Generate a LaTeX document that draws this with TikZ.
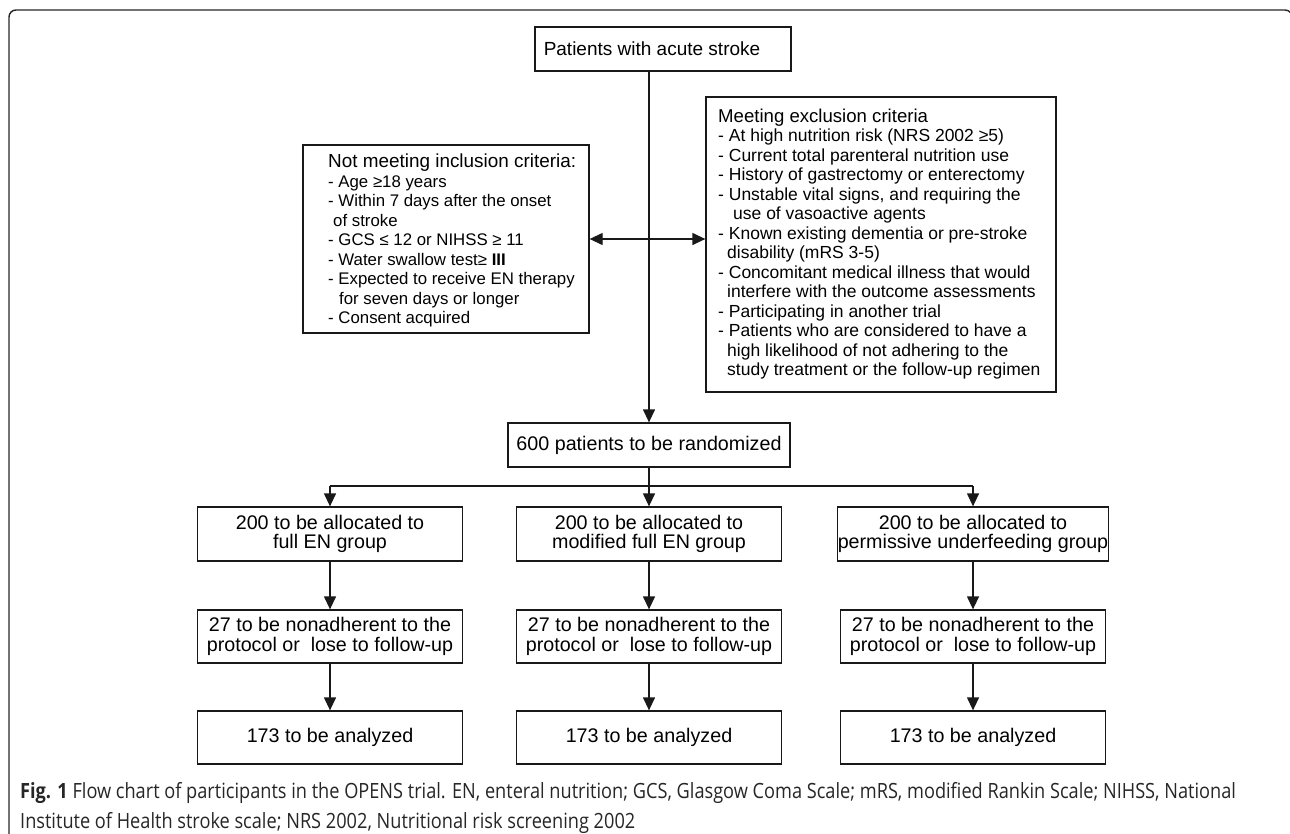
\documentclass[tikz,border=0pt]{standalone}
\usepackage{fontspec}
\setmainfont{Liberation Sans}
\newfontfamily\capfont[FakeStretch=0.865]{Open Sans}
\usetikzlibrary{arrows.meta,calc}
\begin{document}
\begin{tikzpicture}[x=1pt,y=-1pt,
  box/.style={draw=black!90, line width=1.3pt, inner sep=0pt, align=center,
    font=\fontsize{19.7}{19.5}\selectfont},
  lst/.style={inner sep=0pt, align=left, anchor=north west},
  conn/.style={line width=1.3pt, draw=black!90},
  arr/.style={conn, -{Triangle[length=13pt,width=12pt]}},
  darr/.style={conn, {Triangle[length=13pt,width=12pt]}-{Triangle[length=13pt,width=12pt]}},
  frame/.style={draw=black!85, line width=1.4pt, rounded corners=7pt}]
\useasboundingbox (0,0) rectangle (1290,833);
% outer frame
\draw[frame] (9,845) -- (9,10) -- (1292,10) -- (1292,845);
% top
\node[box, font=\fontsize{19}{19.5}\selectfont, minimum width=256pt, minimum height=44pt] (top) at (663,49) {Patients with acute stroke\hspace*{22pt}};
% inclusion
\node[box, minimum width=286pt, minimum height=188pt] (incl) at (446,239) {};
\node[lst, font=\fontsize{16.8}{19.5}\selectfont] (incltxt) at (328,153.8)
 {{\fontsize{18.9}{19.5}\selectfont Not meeting inclusion criteria:}\\
  - Age ≥18 years\\
  - Within 7 days after the onset\\
  \hspace*{5pt}of stroke\\
  - GCS ≤ 12 or NIHSS ≥ 11\\
  - Water swallow test≥ {\bfseries III}\\
  - Expected to receive EN therapy\\
  \hspace*{11pt}for seven days or longer\\
  - Consent acquired};
% exclusion
\node[box, minimum width=350pt, minimum height=295pt] (excl) at (881,244.5) {};
\node[lst, font=\fontsize{17.5}{19.5}\selectfont] (excltxt) at (718,108.4)
 {{\fontsize{18.6}{19.5}\selectfont Meeting exclusion criteria}\\
  - At high nutrition risk (NRS 2002 ≥5)\\
  - Current total parenteral nutrition use\\
  - History of gastrectomy or enterectomy\\
  - Unstable vital signs, and requiring the\\
  \hspace*{15pt}use of vasoactive agents\\
  - Known existing dementia or pre-stroke\\
  \hspace*{9pt}disability (mRS 3-5)\\
  - Concomitant medical illness that would\\
  \hspace*{9pt}interfere with the outcome assessments\\
  - Participating in another trial\\
  - Patients who are considered to have a\\
  \hspace*{9pt}high likelihood of not adhering to the\\
  \hspace*{9pt}study treatment or the follow-up regimen};
% randomized
\node[box, minimum width=282pt, minimum height=44pt] (rand) at (649,445) {600 patients to be randomized};
% columns
\node[box, minimum width=265pt, minimum height=54pt] (a1) at (330,534) {200 to be allocated to\\full EN group};
\node[box, minimum width=265pt, minimum height=54pt] (b1) at (649,534) {200 to be allocated to\\modified full EN group};
\node[box, minimum width=265pt, minimum height=54pt] (c1) at (973,534) {200 to be allocated to\\permissive underfeeding group};
\node[box, minimum width=265pt, minimum height=53pt] (a2) at (330,636.5) {27 to be nonadherent to the\\protocol or\ \ lose to follow-up};
\node[box, minimum width=265pt, minimum height=53pt] (b2) at (649,636.5) {27 to be nonadherent to the\\protocol or\ \ lose to follow-up};
\node[box, minimum width=265pt, minimum height=53pt] (c2) at (973,636.5) {27 to be nonadherent to the\\protocol or\ \ lose to follow-up};
\node[box, minimum width=265pt, minimum height=53pt] (a3) at (330,737.5) {173 to be analyzed};
\node[box, minimum width=265pt, minimum height=53pt] (b3) at (649,737.5) {173 to be analyzed};
\node[box, minimum width=265pt, minimum height=53pt] (c3) at (973,737.5) {173 to be analyzed};
% connectors
\draw[arr] (rand.north |- top.south) -- (rand.north);
\draw[darr] (incl.east) -- (incl.east -| excl.west);
\coordinate (br) at (649,486);
\draw[conn] (rand.south) -- (br);
\draw[conn] (a1.north |- br) -- (c1.north |- br);
\draw[arr] (a1.north |- br) -- (a1.north);
\draw[arr] (b1.north |- br) -- (b1.north);
\draw[arr] (c1.north |- br) -- (c1.north);
\draw[arr] (a1) -- (a2);
\draw[arr] (b1) -- (b2);
\draw[arr] (c1) -- (c2);
\draw[arr] (a2) -- (a3);
\draw[arr] (b2) -- (b3);
\draw[arr] (c2) -- (c3);
% caption
\node[anchor=north west, inner sep=0pt, align=left, text=black!85,
  font=\capfont\fontsize{21}{30}\selectfont] (cap) at (20,782)
 {\textbf{Fig. 1} Flow chart of participants in the OPENS trial. EN, enteral nutrition; GCS, Glasgow Coma Scale; mRS, modified Rankin Scale; NIHSS, National\\
  Institute of Health stroke scale; NRS 2002, Nutritional risk screening 2002};
\end{tikzpicture}
\end{document}
